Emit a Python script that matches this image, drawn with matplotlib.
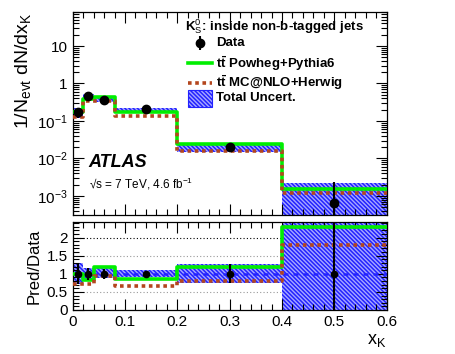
import matplotlib
matplotlib.use("Agg")
import matplotlib.pyplot as plt
import numpy as np
from matplotlib.patches import Rectangle
from matplotlib.ticker import MultipleLocator, LogLocator, NullFormatter, FixedLocator, FixedFormatter

plt.rcParams['font.family'] = ['Liberation Sans', 'DejaVu Sans']
plt.rcParams['mathtext.fontset'] = 'custom'
plt.rcParams['mathtext.rm'] = 'Liberation Sans'
plt.rcParams['mathtext.it'] = 'Liberation Sans:italic'
plt.rcParams['mathtext.bf'] = 'Liberation Sans:bold'
plt.rcParams['hatch.linewidth'] = 1.1

# ---- data ----
bin_edges = [0.0, 0.02, 0.04, 0.08, 0.2, 0.4, 0.6]
bin_centers = [0.01, 0.03, 0.06, 0.14, 0.3, 0.5]
data_vals = [0.17, 0.47, 0.36, 0.205, 0.020, 6.6e-4]
data_err_lo = [0.28, 0.17, 0.14, 0.05, 0.26, 1.0]     # relative
data_err_hi = [0.30, 0.16, 0.12, 0.05, 0.27, 2.6]     # relative
powheg_vals = [0.17, 0.39, 0.43, 0.176, 0.024, 1.52e-3]
mcatnlo_vals = [0.125, 0.34, 0.34, 0.138, 0.016, 1.2e-3]
powheg_ratio = [1.0, 0.82, 1.2, 0.86, 1.2, 2.3]
mcatnlo_ratio = [0.73, 0.72, 0.94, 0.67, 0.80, 1.8]
unc_lo = [0.72, 0.85, 0.88, 0.90, 0.74, 0.0]          # relative band
unc_hi = [1.30, 1.15, 1.17, 1.10, 1.27, 3.4]

GREEN = '#00ee00'
BROWN = '#b4461e'
BLUE = '#2222ff'
BANDFC = '#a8a8ff'
HATCH = '\\\\\\\\\\\\\\\\'

def steps(vals):
    return np.append(vals, vals[-1])

fig = plt.figure(figsize=(4.56, 3.54), dpi=100)
ax = fig.add_axes([0.1594, 0.3927, 0.6886, 0.5734])
axr = fig.add_axes([0.1594, 0.1243, 0.6886, 0.2486])

edges = np.array(bin_edges)
dv = np.array(data_vals)

# ---- top panel ----
band_lo = np.maximum(dv * np.array(unc_lo), 1e-6)
band_hi = dv * np.array(unc_hi)
for i in range(len(dv)):
    ax.fill_between([edges[i], edges[i+1]], band_lo[i], band_hi[i],
                    facecolor=BANDFC, edgecolor=BLUE, hatch=HATCH, linewidth=0, zorder=1)
ax.step(edges, steps(powheg_vals), where='post', color=GREEN, lw=2.6, zorder=3)
ax.step(edges, steps(mcatnlo_vals), where='post', color=BROWN, lw=2.6,
        linestyle=(0, (1, 1)), zorder=4)
yerr_top = [dv * np.array(data_err_lo) * 0.999, dv * np.array(data_err_hi)]
ax.errorbar(bin_centers, dv, yerr=yerr_top, fmt='o', color='black', ms=6,
            elinewidth=1.5, capsize=0, zorder=6)

ax.set_yscale('log')
ax.set_xlim(0, 0.6)
ax.set_ylim(10**-3.507, 10**1.907)
ax.yaxis.set_major_locator(FixedLocator([1e-3, 1e-2, 1e-1, 1, 10]))
ax.yaxis.set_major_formatter(FixedFormatter(['$10^{-3}$', '$10^{-2}$', '$10^{-1}$', '1', '10']))
ax.yaxis.set_minor_locator(LogLocator(base=10, subs=np.arange(2, 10), numticks=20))
ax.yaxis.set_minor_formatter(NullFormatter())
ax.xaxis.set_major_locator(MultipleLocator(0.1))
ax.xaxis.set_minor_locator(MultipleLocator(0.02))
ax.tick_params(axis='x', labelbottom=False)

ax.set_ylabel('1/N$_{\\mathrm{evt}}$ dN/dx$_{\\mathrm{K}}$', fontsize=14, loc='top', labelpad=3)

ax.text(0.049, 0.261, 'ATLAS', transform=ax.transAxes, fontsize=13,
        fontweight='bold', fontstyle='italic', va='center', ha='left')
ax.text(0.053, 0.151, '\u221As = 7 TeV, 4.6 fb$^{-1}$', transform=ax.transAxes,
        fontsize=8.5, va='center', ha='left')

# legend (manual)
T = ax.transAxes
ax.text(0.357, 0.9266, 'K$^{0}_{\\mathrm{S}}$: inside non-b-tagged jets', transform=T,
        fontsize=9.5, fontweight='bold', va='center', ha='left')
ax.errorbar([0.404], [0.846], yerr=[[0.035], [0.035]], fmt='o', color='black', ms=6,
            elinewidth=1.5, capsize=0, transform=T, clip_on=False, zorder=7)
ax.text(0.458, 0.846, 'Data', transform=T, fontsize=9.5, fontweight='bold', va='center')
ax.plot([0.368, 0.444], [0.747, 0.747], color=GREEN, lw=2.6, transform=T)
ax.text(0.458, 0.747, '$\\mathbf{t\\bar{t}}$ Powheg+Pythia6', transform=T, fontsize=9.5,
        fontweight='bold', va='center')
ax.plot([0.368, 0.444], [0.65, 0.65], color=BROWN, lw=2.6, linestyle=(0, (1, 1)), transform=T)
ax.text(0.458, 0.65, '$\\mathbf{t\\bar{t}}$ MC@NLO+Herwig', transform=T, fontsize=9.5,
        fontweight='bold', va='center')
ax.add_patch(Rectangle((0.368, 0.533), 0.076, 0.082, transform=T, facecolor=BANDFC,
                       edgecolor=BLUE, hatch=HATCH, linewidth=0.8, zorder=5))
ax.text(0.458, 0.574, 'Total Uncert.', transform=T, fontsize=9.5, fontweight='bold', va='center')

# ---- ratio panel ----
for yv, c, ls in [(2.0, 'black', (0, (1, 2))), (1.5, '#999999', (0, (1, 2))), (0.5, '#999999', (0, (1, 2)))]:
    axr.axhline(yv, color=c, lw=0.8, linestyle=ls, zorder=0)
for i in range(len(dv)):
    axr.fill_between([edges[i], edges[i+1]], unc_lo[i], unc_hi[i],
                     facecolor=BANDFC, edgecolor=BLUE, hatch=HATCH, linewidth=0, zorder=1)
axr.axhline(1.0, color=BLUE, lw=1.8, linestyle=(0, (2, 2)), zorder=2)
axr.step(edges, steps(powheg_ratio), where='post', color=GREEN, lw=2.6, zorder=3)
axr.step(edges, steps(mcatnlo_ratio), where='post', color=BROWN, lw=2.6,
         linestyle=(0, (1, 1)), zorder=4)
ones = np.ones(len(dv))
axr.errorbar(bin_centers, ones, yerr=[data_err_lo, data_err_hi], fmt='o', color='black',
             ms=4.5, elinewidth=1.5, capsize=0, zorder=6)

axr.set_xlim(0, 0.6)
axr.set_ylim(0, 2.43)
axr.yaxis.set_major_locator(FixedLocator([0, 0.5, 1, 1.5, 2]))
axr.yaxis.set_major_formatter(FixedFormatter(['0', '0.5', '1', '1.5', '2']))
axr.yaxis.set_minor_locator(MultipleLocator(0.1))
axr.xaxis.set_minor_locator(MultipleLocator(0.02))
axr.xaxis.set_major_locator(FixedLocator([0, 0.1, 0.2, 0.3, 0.4, 0.5, 0.6]))
axr.xaxis.set_major_formatter(FixedFormatter(['0', '0.1', '0.2', '0.3', '0.4', '0.5', '0.6']))
axr.set_ylabel('Pred/Data', fontsize=12, labelpad=4)
axr.set_xlabel('x$_{\\mathrm{K}}$', fontsize=13, loc='right', labelpad=2)

for a in (ax, axr):
    a.tick_params(which='both', direction='in', top=True, right=True, labelsize=11)
    a.tick_params(which='major', length=8, width=0.8)
    a.tick_params(which='minor', length=4.5, width=0.8)
    for s in a.spines.values():
        s.set_linewidth(0.9)

fig.savefig('out.png', dpi=100)
